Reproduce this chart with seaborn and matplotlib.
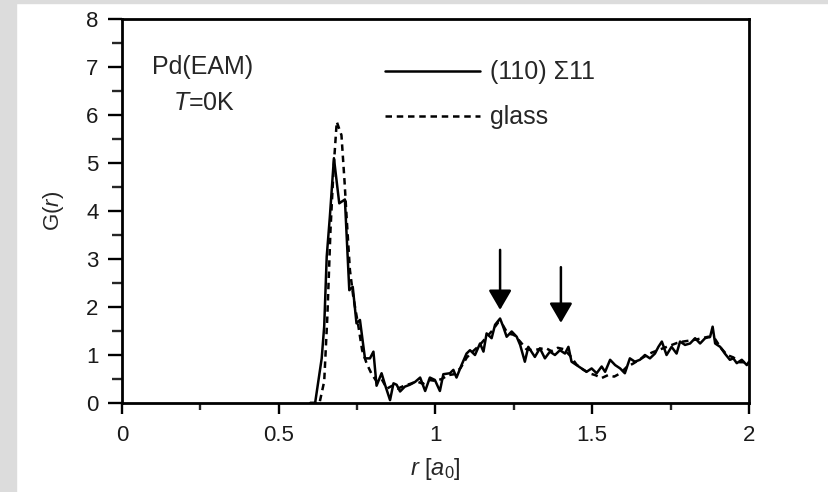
import matplotlib

matplotlib.use("Agg")
import matplotlib.pyplot as plt
import numpy as np
import pandas as pd
import seaborn as sns
from matplotlib.patches import Rectangle
from matplotlib.ticker import MultipleLocator

# (110) Sigma11 bicrystal
r_bic = [0.60, 0.616, 0.637, 0.645, 0.653, 0.663, 0.676, 0.693, 0.711, 0.725,
         0.736, 0.748, 0.759, 0.775, 0.791, 0.802, 0.812, 0.828, 0.839, 0.855,
         0.866, 0.876, 0.887, 0.902, 0.918, 0.935, 0.951, 0.967, 0.982, 0.998,
         1.014, 1.025, 1.046, 1.057, 1.067, 1.083, 1.099, 1.110, 1.126, 1.142,
         1.153, 1.163, 1.179, 1.190, 1.206, 1.216, 1.227, 1.243, 1.259, 1.270,
         1.285, 1.296, 1.317, 1.333, 1.349, 1.365, 1.381, 1.397, 1.413, 1.424,
         1.434, 1.450, 1.466, 1.482, 1.498, 1.514, 1.530, 1.541, 1.557, 1.573,
         1.589, 1.604, 1.620, 1.636, 1.652, 1.668, 1.684, 1.700, 1.711, 1.722,
         1.737, 1.753, 1.769, 1.780, 1.796, 1.812, 1.828, 1.844, 1.860, 1.876,
         1.884, 1.892, 1.908, 1.923, 1.939, 1.950, 1.961, 1.977, 1.993, 2.000]
g_bic = [0.00, 0.00, 0.93, 1.60, 3.05, 3.88, 5.10, 4.16, 4.24, 2.35,
         2.42, 1.66, 1.73, 0.93, 0.93, 1.07, 0.36, 0.62, 0.38, 0.06,
         0.41, 0.38, 0.24, 0.34, 0.38, 0.44, 0.53, 0.25, 0.53, 0.48,
         0.25, 0.60, 0.62, 0.69, 0.53, 0.79, 1.03, 1.10, 1.00, 1.24,
         1.07, 1.45, 1.35, 1.63, 1.76, 1.59, 1.38, 1.49, 1.38, 1.21,
         0.86, 1.17, 0.96, 1.14, 0.93, 1.07, 1.00, 1.10, 1.03, 1.17,
         0.86, 0.79, 0.72, 0.65, 0.72, 0.62, 0.76, 0.65, 0.90, 0.79,
         0.72, 0.62, 0.93, 0.86, 0.90, 1.00, 0.93, 1.03, 1.17, 1.28,
         1.00, 1.17, 1.03, 1.28, 1.21, 1.24, 1.35, 1.24, 1.35, 1.38,
         1.59, 1.24, 1.17, 1.03, 0.90, 0.93, 0.83, 0.90, 0.79, 0.86]

# glass
r_gls = [0.60, 0.630, 0.645, 0.655, 0.665, 0.675, 0.685, 0.700, 0.710, 0.717,
         0.727, 0.738, 0.754, 0.766, 0.780, 0.795, 0.812, 0.828, 0.845, 0.862,
         0.880, 0.900, 0.920, 0.940, 0.960, 0.980, 1.000, 1.020, 1.040, 1.060,
         1.080, 1.100, 1.120, 1.140, 1.160, 1.180, 1.200, 1.215, 1.230, 1.250,
         1.270, 1.290, 1.310, 1.330, 1.350, 1.370, 1.390, 1.410, 1.430, 1.450,
         1.470, 1.490, 1.510, 1.530, 1.550, 1.570, 1.590, 1.610, 1.630, 1.650,
         1.670, 1.690, 1.710, 1.730, 1.750, 1.770, 1.790, 1.810, 1.830, 1.850,
         1.870, 1.890, 1.910, 1.930, 1.950, 1.970, 2.000]
g_gls = [0.00, 0.00, 0.45, 1.80, 3.60, 4.90, 5.86, 5.58, 4.60, 3.81,
         2.77, 2.20, 1.60, 1.10, 0.83, 0.62, 0.45, 0.50, 0.30, 0.36,
         0.30, 0.36, 0.40, 0.45, 0.40, 0.48, 0.46, 0.50, 0.58, 0.60,
         0.73, 0.95, 1.08, 1.20, 1.35, 1.50, 1.68, 1.62, 1.45, 1.42,
         1.28, 1.12, 1.10, 1.12, 1.15, 1.08, 1.15, 1.12, 0.98, 0.80,
         0.70, 0.62, 0.58, 0.52, 0.58, 0.55, 0.62, 0.75, 0.82, 0.90,
         0.98, 1.05, 1.10, 1.15, 1.20, 1.25, 1.28, 1.30, 1.32, 1.35,
         1.38, 1.35, 1.15, 1.00, 0.95, 0.85, 0.85]

# arrows: x, tail, head
arrow_x = [1.206, 1.40]
arrow_top = [3.19, 2.83]
arrow_tip = [1.94, 1.67]

sns.set_style("ticks")
plt.rcParams["font.family"] = ["Liberation Sans", "DejaVu Sans"]
plt.rcParams["mathtext.fontset"] = "custom"
plt.rcParams["mathtext.rm"] = "Liberation Sans"
plt.rcParams["mathtext.it"] = "Liberation Sans:italic"

fig = plt.figure(figsize=(8.29, 4.92), dpi=100, facecolor="white")
fig.patches.append(Rectangle((0, 0), 16 / 829, 1, transform=fig.transFigure,
                             color="#dcdcdc", zorder=0))
fig.patches.append(Rectangle((0, 1 - 3 / 492), 1, 3 / 492, transform=fig.transFigure,
                             color="#dcdcdc", zorder=0))
ax = fig.add_axes([122 / 829, 1 - 403 / 492, 627 / 829, 384 / 492])

df_bic = pd.DataFrame({"r": r_bic, "G": g_bic})
df_gls = pd.DataFrame({"r": r_gls, "G": g_gls})
sns.lineplot(data=df_bic, x="r", y="G", ax=ax, color="black", lw=1.8,
             label="(110) \u03a311")
sns.lineplot(data=df_gls, x="r", y="G", ax=ax, color="black", lw=1.8,
             label="glass")
ax.lines[1].set_dashes((2.6, 1.9))

for x, y0, y1 in zip(arrow_x, arrow_top, arrow_tip):
    ax.annotate("", xy=(x, y1), xytext=(x, y0),
                arrowprops=dict(arrowstyle="-|>,head_length=0.6,head_width=0.35",
                                lw=1.8, color="black", shrinkA=0, shrinkB=0,
                                mutation_scale=20))

ax.text(0.258, 7.0, "Pd(EAM)", fontsize=18, ha="center", va="center")
ax.text(0.262, 6.26, "$T$=0K", fontsize=18, ha="center", va="center")

ax.set_xlim(0, 2)
ax.set_ylim(0, 8)
ax.xaxis.set_major_locator(MultipleLocator(0.5))
ax.xaxis.set_minor_locator(MultipleLocator(0.25))
ax.yaxis.set_major_locator(MultipleLocator(1))
ax.yaxis.set_minor_locator(MultipleLocator(0.5))
ax.set_xticks([0, 0.5, 1, 1.5, 2], ["0", "0.5", "1", "1.5", "2"])

for s in ax.spines.values():
    s.set_linewidth(2.0)
    s.set_color("black")
ax.tick_params(axis="both", which="major", width=1.7, labelsize=16,
               color="black", labelcolor="#1a1a1a")
ax.tick_params(axis="y", which="major", length=10, pad=7)
ax.tick_params(axis="y", which="minor", length=7, width=1.7)
ax.tick_params(axis="x", which="major", length=8, pad=8)
ax.tick_params(axis="x", which="minor", length=5, width=1.7)

ax.set_xlabel("$r\\ [a_0]$", fontsize=17, labelpad=7)
ax.set_ylabel("G($r$)", fontsize=16, labelpad=14)

ax.legend(loc="upper left", bbox_to_anchor=(0.419, 0.892), frameon=False,
          fontsize=18, handlelength=3.8, handletextpad=0.4, labelspacing=0.84,
          borderpad=0, borderaxespad=0)

fig.savefig("out.png", dpi=100)
